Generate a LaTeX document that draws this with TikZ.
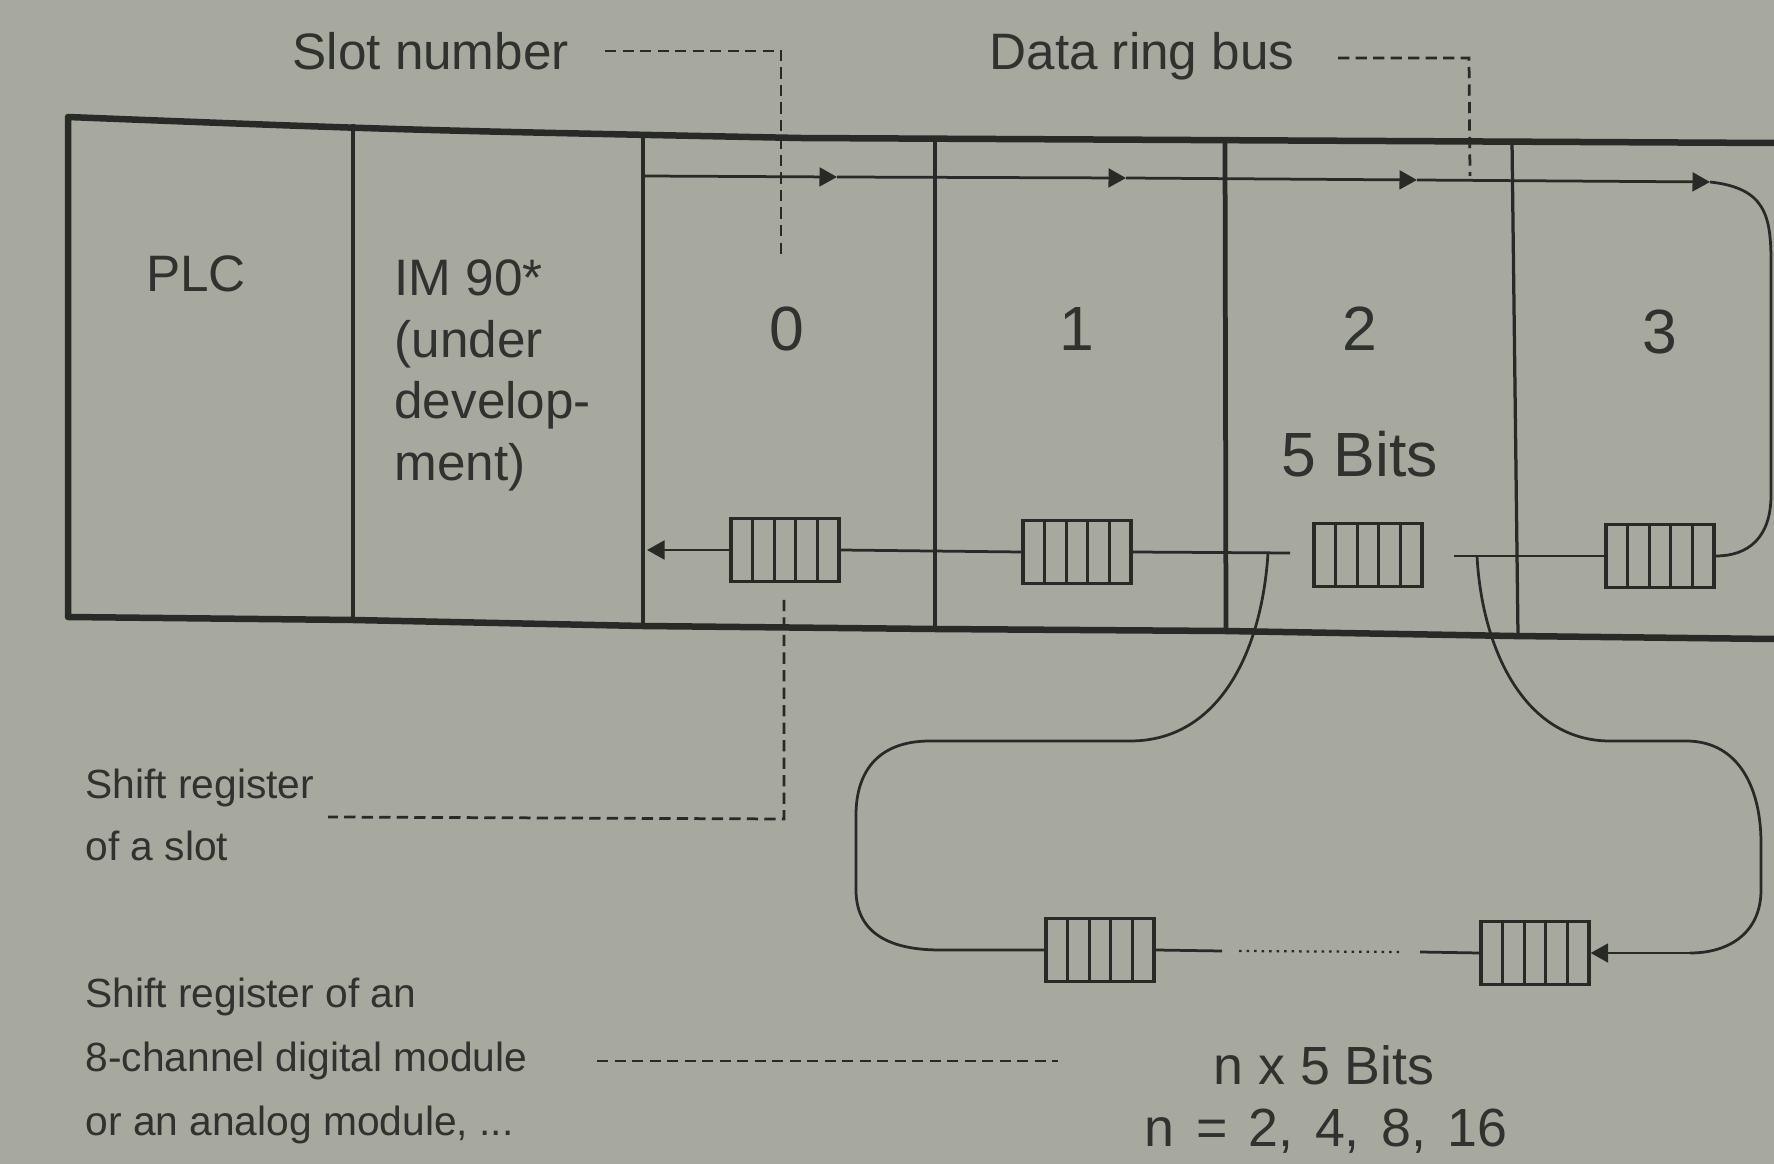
\documentclass[tikz,border=0pt]{standalone}
\usepackage{fontspec}
\setmainfont{Liberation Sans}
\usetikzlibrary{arrows.meta,calc}
\definecolor{bg}{RGB}{167,168,158}
\definecolor{ink}{RGB}{40,42,40}
\definecolor{txt}{RGB}{48,50,48}
\begin{document}
\begin{tikzpicture}[x=0.4pt,y=-0.4pt,
  frameline/.style={draw=ink,line width=2.6pt,line join=round,line cap=round},
  divider/.style={draw=ink,line width=1.9pt},
  thindiv/.style={draw=ink,line width=1.3pt},
  bus/.style={draw=ink,line width=1.1pt},
  tipr/.style={-{Triangle[length=7pt,width=7.5pt]}},
  leader/.style={draw=ink,line width=1.1pt,dash pattern=on 4.5pt off 2.5pt},
  dotline/.style={draw=ink,line width=0.9pt,dash pattern=on 1pt off 2pt},
  shreg/.style={draw=ink,line width=1.3pt,fill=bg,minimum width=43.2pt,minimum height=25.2pt,inner sep=0pt,
    path picture={\foreach \i in {1,2,3,4}{\draw[ink,line width=1.1pt]
      ($(path picture bounding box.south west)!\i/5!(path picture bounding box.south east)$) --
      ($(path picture bounding box.north west)!\i/5!(path picture bounding box.north east)$);}}},
  bigtext/.style={text=txt,inner sep=0pt,font=\fontsize{20.5}{24}\selectfont},
  hugetext/.style={text=txt,inner sep=0pt,font=\fontsize{25}{30}\selectfont},
  midtext/.style={text=txt,inner sep=0pt,font=\fontsize{21.5}{26}\selectfont},
  smalltext/.style={text=txt,inner sep=0pt,font=\fontsize{16.3}{19}\selectfont},
]
\fill[bg] (0,0) rectangle (1774,1164);
\useasboundingbox (0,0) rectangle (1774,1164);

% frame
\draw[frameline] (1774,143) -- (800,138) .. controls (400,130) .. (68,117) -- (68,617) -- (353,620) -- (643,626) -- (935,629) -- (1225,631) -- (1514,636) -- (1774,639);
\draw[divider] (353,124) -- (353,620);
\draw[divider] (643,133) -- (643,626);
\draw[thindiv] (935,137) -- (935,629);
\draw[divider] (1225,139) -- (1226,631);
\draw[thindiv] (1512,141) -- (1518,636);

% texts
\node[bigtext,anchor=base west] (tslot) at (292,70) {Slot number};
\node[bigtext,anchor=base west] (tring) at (989,70) {Data ring bus};
\node[bigtext,anchor=base] (tplc) at (196,292) {PLC};
\node[bigtext,anchor=base west] (tim1) at (394,296) {IM 90*};
\node[bigtext,anchor=base west] (tim2) at (394,358) {(under};
\node[bigtext,anchor=base west] (tim3) at (394,419) {develop-};
\node[bigtext,anchor=base west] (tim4) at (394,481) {ment)};
\node[hugetext,anchor=base] (s0) at (787,351) {0};
\node[hugetext,anchor=base] (s1) at (1077,351) {1};
\node[hugetext,anchor=base] (s2) at (1360,351) {2};
\node[hugetext,anchor=base] (s3) at (1660,354) {3};
\node[hugetext,anchor=base] (fivebits) at (1360,477) {5 Bits};
\node[smalltext,anchor=base west] (tsr1) at (85,798) {Shift register};
\node[smalltext,anchor=base west] (tsr2) at (85,860) {of a slot};
\node[smalltext,anchor=base west] (tm1) at (85,1007) {Shift register of an};
\node[smalltext,anchor=base west] (tm2) at (85,1071) {8-channel digital module};
\node[smalltext,anchor=base west] (tm3) at (85,1135) {or an analog module, ...};
\node[midtext,anchor=base] (tn1) at (1324,1084) {n x 5 Bits};
\node[midtext,anchor=base] (tn2) at (1326,1146) {n\hspace{0.12em} =\hspace{0.12em} 2,\hspace{0.12em} 4,\hspace{0.12em} 8,\hspace{0.12em} 16};

% shift registers
\node[shreg] (b0) at (785,550) {};
\node[shreg] (b1) at (1077,552) {};
\node[shreg] (b2) at (1368,555) {};
\node[shreg] (b3) at (1660,556) {};
\node[shreg] (bl) at (1100,950) {};
\node[shreg] (br) at (1535,953) {};

% top bus
\coordinate (t0) at (645,176);
\coordinate (t1) at (837,177);
\coordinate (t2) at (1126,178);
\coordinate (t3) at (1417,180);
\coordinate (t4) at (1710,182);
\draw[bus,tipr] (t0) -- (t1);
\draw[bus,tipr] (t1) -- (t2);
\draw[bus,tipr] (t2) -- (t3);
\draw[bus,tipr] (t3) -- (t4);
\draw[bus] (t4) .. controls (1765,188) and (1771,215) .. (1771,262) -- (1771,495) .. controls (1771,538) and (1748,556) .. (b3.east);

% lower bus
\coordinate (a0) at (647,550);
\coordinate (lend) at (1290,553);
\coordinate (lc) at (1268,553);
\coordinate (rstart) at (1454,556);
\coordinate (rc) at (1477,556);
\draw[bus,tipr] (b0.west) -- (a0);
\draw[bus] (b0.east) -- (b1.west);
\draw[bus] (b1.east) -- (lend);
\draw[bus] (rstart) -- (b3.west);
\draw[bus] (rc) .. controls (1482,650) and (1525,741) .. (1610,741) -- (1686,741)
  .. controls (1740,741) and (1761,790) .. (1761,843) -- (1761,890)
  .. controls (1761,932) and (1730,953) .. (1690,953) coordinate (rin);
\draw[bus,tipr] (rin) -- (br.east);
\draw[bus] (lc) .. controls (1262,650) and (1220,741) .. (1130,741) -- (930,741)
  .. controls (875,741) and (856,775) .. (856,815) -- (856,890)
  .. controls (856,930) and (885,950) .. (940,950) -- (bl.west);
\coordinate (d1) at (1222,951);
\coordinate (d2) at (1239,951);
\coordinate (d3) at (1403,952);
\coordinate (d4) at (1420,952);
\draw[bus] (bl.east) -- (d1);
\draw[dotline] (d2) -- (d3);
\draw[bus] (d4) -- (br.west);

% leaders
\coordinate (ls1) at (605,51);
\coordinate (ls2) at (781,51);
\coordinate (ls3) at (781,255);
\draw[leader] (ls1) -- (ls2) -- (ls3);
\coordinate (lr1) at (1338,58);
\coordinate (lr2) at (1469,58);
\coordinate (lr3) at (1470,176);
\draw[leader] (lr1) -- (lr2) -- (lr3);
\coordinate (lk1) at (784,600);
\coordinate (lk2) at (784,819);
\coordinate (lk3) at (328,817);
\draw[leader] (lk1) -- (lk2) -- (lk3);
\coordinate (lm1) at (597,1061);
\coordinate (lm2) at (1058,1061);
\draw[leader] (lm1) -- (lm2);
\end{tikzpicture}
\end{document}
